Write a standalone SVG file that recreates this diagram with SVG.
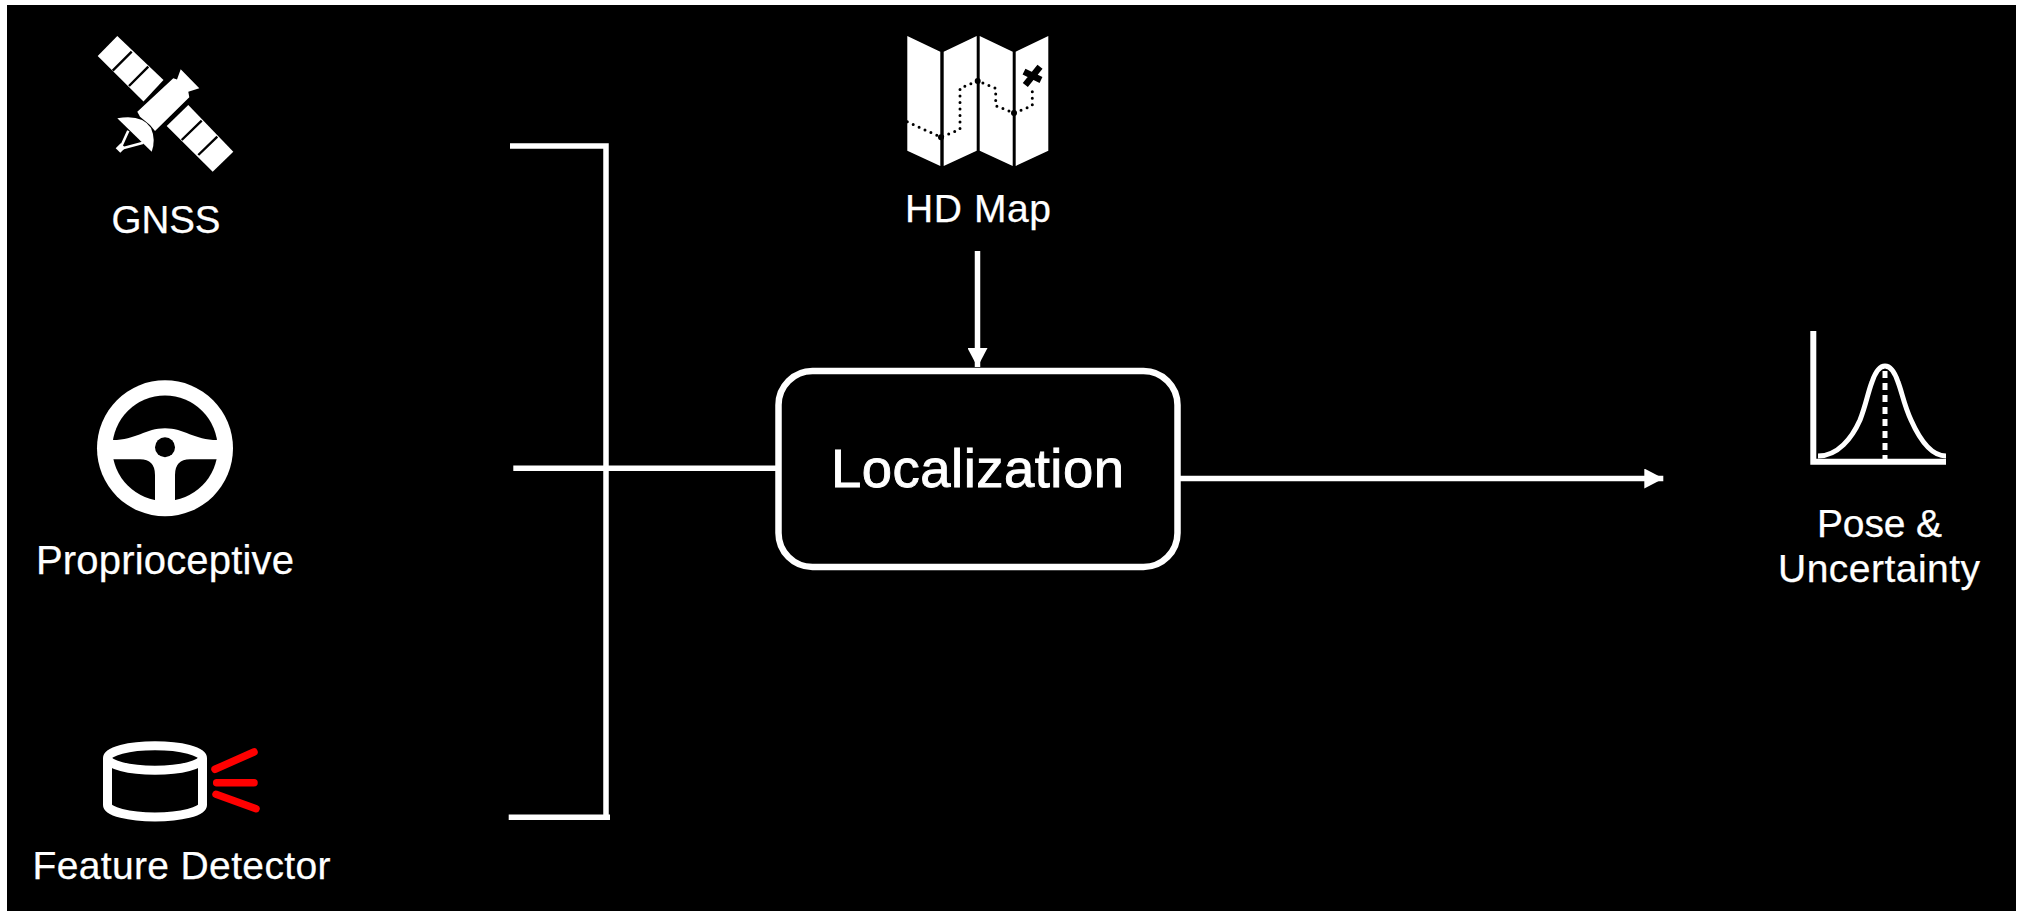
<svg xmlns="http://www.w3.org/2000/svg" width="2022" height="911" viewBox="0 0 2022 911">
<style>
text{font-family:"Liberation Sans",Arial,sans-serif;fill:#fff;font-size:39px;stroke:#fff;stroke-width:.25}
.w{fill:#fff}.k{fill:#000}
.ln{fill:none;stroke:#fff;stroke-width:5.5}
.sep{stroke:#000;stroke-width:2.4;fill:none}
.ray{stroke:#f00;stroke-width:7.5;stroke-linecap:round;fill:none}
</style>
<defs><marker id="ah" markerUnits="userSpaceOnUse" markerWidth="19" markerHeight="20" refX="19" refY="10" orient="auto"><path d="M0,0 L19,10 L0,20 Z" fill="#fff"/></marker></defs>
<rect width="2022" height="911" fill="#fff"/>
<rect x="7" y="5" width="2009" height="906" fill="#000"/>
<g id="connectors">
<path class="ln" d="M510,146 H606 V817"/>
<path class="ln" d="M508.7,817.3 H610"/>
<path class="ln" d="M513.3,468.3 H776"/>
<path class="ln" d="M977.5,251 V367" marker-end="url(#ah)"/>
<path class="ln" d="M1180,478.5 H1663.3" marker-end="url(#ah)"/>
</g>
<g id="gnss">
<path class="w" d="M97.7,56 L117.3,36 L163.5,80 L143.5,101.5 Z"/>
<path class="sep" d="M112.7,70.7 L131.7,51.7 M129,86 L148.3,66.7"/>
<path class="w" d="M166.7,126 L188.3,105 L233.3,151.7 L212.7,171.7 Z"/>
<path class="sep" d="M181.7,140 L201.7,120.7 M198.3,155 L217.3,136.7"/>
<path class="w" d="M137.3,111.7 L173.3,78.3 L177,79.5 L180.7,69.3 L199.3,88.3 L188.3,91.7 L189.3,97.3 L155,131 L150,125 L140,116.7 Z"/>
<path class="w" d="M117.3,118.3 Q142,114 151,128 Q156,140 151.7,151.7 Z"/>
<path d="M120,149 L128.3,130.7 M120,149 L143.3,142.7" fill="none" stroke="#fff" stroke-width="2.6"/>
<path d="M118,150.5 L123,145.5" fill="none" stroke="#fff" stroke-width="6.5"/>
<text x="166" y="232.5" text-anchor="middle" style="font-size:38.5px">GNSS</text>
</g>
<g id="proprioceptive">
<circle class="w" cx="165" cy="448.3" r="68"/>
<circle class="k" cx="165" cy="448.3" r="52.7"/>
<path class="w" d="M110,440 C135,441 145,428.3 165,428.3 C185,428.3 195,441 220,440 L220,459.3 L190,459.3 Q175,459.3 175,475 L175,505 L155,505 L155,475 Q155,459.3 140,459.3 L110,459.3 Z"/>
<circle class="k" cx="165" cy="447.3" r="10"/>
<text x="36" y="574" textLength="258" style="font-size:40px">Proprioceptive</text>
</g>
<g id="feature-detector">
<ellipse cx="155" cy="758" rx="47.5" ry="12.2" fill="none" stroke="#fff" stroke-width="9"/>
<path d="M107.5,758 V805 A47.5,12 0 0 0 202.5,805 V758" fill="none" stroke="#fff" stroke-width="9"/>
<path class="ray" d="M215,769.3 L254,752 M216.7,782.7 H254 M216,794.3 L256,808.7"/>
<text x="32.5" y="878.5" textLength="298">Feature Detector</text>
</g>
<g id="hd-map">
<path class="w" d="M907.3,36 L940.3,51.7 V166 L907.3,150.7 Z M943.7,51.7 L976.7,36 V150.7 L943.7,166 Z M979.7,36 L1012.7,51.7 V166 L979.7,150.7 Z M1015.7,51.7 L1048.3,36 V150.7 L1015.7,166 Z"/>
<path d="M907.3,121.7 L941,137.3 L960,129.3 V88.3 L977.7,81 L995.7,88.3 V105.7 L1014,113 L1032.3,105.7 V86.7" fill="none" stroke="#000" stroke-width="3" stroke-linecap="round" stroke-dasharray="0 6.5"/>
<circle class="k" cx="941" cy="137.3" r="3"/><circle class="k" cx="977.7" cy="81" r="3"/><circle class="k" cx="1014" cy="113" r="3"/>
<path d="M1025.3,85 L1040,66.7 M1024,71.7 L1041,80" fill="none" stroke="#000" stroke-width="6.5"/>
<text x="905" y="221.5" textLength="146">HD Map</text>
</g>
<g id="localization">
<rect x="778.5" y="371" width="399" height="196" rx="34" fill="#000" stroke="#fff" stroke-width="6.5"/>
<text x="831" y="487" textLength="293" style="font-size:54.5px;stroke-width:.9">Localization</text>
</g>
<g id="pose">
<path class="ln" style="stroke-width:6" d="M1813.3,331 V461.7 H1946"/>
<path d="M1818,456 C1838,456 1852,438 1860,420 C1866,405 1868,392 1872,382 C1876,370 1880,366 1885,366 C1890,366 1894,370 1898,382 C1902,392 1904,405 1911,420 C1919,438 1930,456 1946,456" fill="none" stroke="#fff" stroke-width="5"/>
<path d="M1885,371 V459" fill="none" stroke="#fff" stroke-width="5" stroke-dasharray="7 5"/>
<text x="1817" y="536.5" textLength="125">Pose &amp;</text>
<text x="1778" y="581.5" textLength="202">Uncertainty</text>
</g>
</svg>
